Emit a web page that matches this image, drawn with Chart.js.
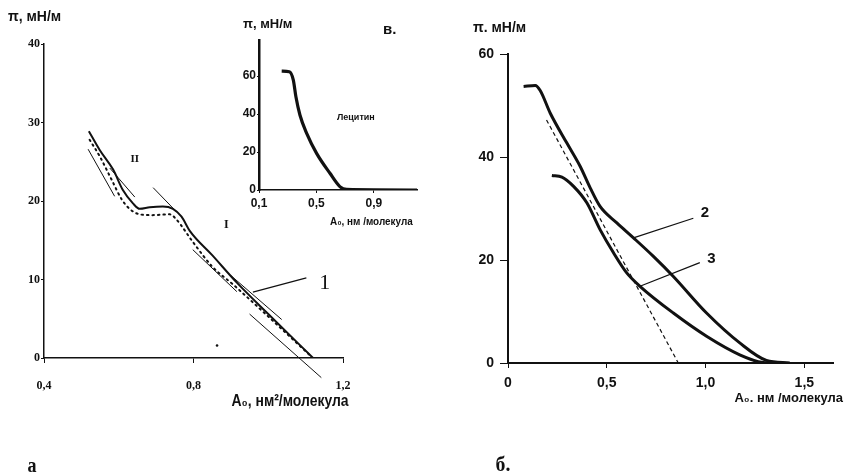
<!DOCTYPE html>
<html>
<head>
<meta charset="utf-8">
<script src="https://cdn.jsdelivr.net/npm/chart.js@4.4.0/dist/chart.umd.min.js"></script>
<style>
  html, body { margin: 0; padding: 0; background: #fff; }
  body { width: 845px; height: 476px; position: relative; overflow: hidden; }
  canvas { position: absolute; }
  #cA { left: 0; top: 0; width: 440px; height: 476px; }
  #cB { left: 220px; top: 0; width: 210px; height: 235px; }
  #cC { left: 440px; top: 0; width: 405px; height: 476px; }
</style>
</head>
<body>
<canvas id="cA" width="440" height="476"></canvas>
<canvas id="cB" width="210" height="235"></canvas>
<canvas id="cC" width="405" height="476"></canvas>
<script>
// ---- panel "а": isotherms with tangent lines
const aMainX = [0.52, 0.549, 0.585, 0.611, 0.638, 0.656, 0.683, 0.718, 0.745, 0.768, 0.79, 0.85, 0.916, 1.0, 1.12];
const aMainY = [28.9, 26.5, 24.0, 21.4, 19.7, 19.0, 19.2, 19.3, 19.0, 18.0, 16.2, 13.1, 9.6, 5.6, 0];
const aDotX = [0.522, 0.549, 0.58, 0.608, 0.629, 0.656, 0.69, 0.737, 0.755, 0.798, 0.851, 0.905, 0.995, 1.115];
const aDotY = [27.8, 25.7, 22.8, 20.2, 19.0, 18.3, 18.2, 18.3, 17.6, 14.8, 11.6, 9.4, 5.5, 0.2];
const aTangents = [
  { x: [0.518, 0.589], y: [26.6, 20.6] },
  { x: [0.576, 0.643], y: [24.2, 20.5] },
  { x: [0.692, 0.755], y: [21.7, 18.6] },
  { x: [0.798, 0.916], y: [13.8, 8.45] },
  { x: [0.9, 1.036], y: [10.5, 4.9] },
  { x: [0.95, 1.142], y: [5.6, -2.5] }
];
const aLeaderX = [0.959, 1.102];
const aLeaderY = [8.4, 10.2];
const aSpeckX = [0.863];
const aSpeckY = [1.6];
const aTicksX = [0.4, 0.8, 1.2];
const aTickLabelsX = ['0,4', '0,8', '1,2'];
const aTicksY = [0, 10, 20, 30, 40];
const aTickLabelsY = ['0', '10', '20', '30', '40'];

// ---- inset "в.": lecithin
const vX = [0.258, 0.311, 0.339, 0.357, 0.385, 0.432, 0.501, 0.594, 0.663, 0.71, 1.2];
const vY = [62.6, 62.3, 57.9, 49.1, 39.5, 29.8, 19.3, 8.8, 1.8, 0.3, 0];
const vTicksX = [0.1, 0.5, 0.9];
const vTickLabelsX = ['0,1', '0,5', '0,9'];
const vTicksY = [0, 20, 40, 60];
const vTickLabelsY = ['0', '20', '40', '60'];

// ---- panel "б": curves 2 and 3
const b2X = [0.079, 0.138, 0.163, 0.214, 0.298, 0.365, 0.416, 0.466, 0.551, 0.635, 0.736, 0.837, 1.005, 1.173, 1.308, 1.426];
const b2Y = [53.7, 53.9, 52.9, 48.5, 42.7, 38.2, 34.0, 30.4, 27.2, 24.3, 20.7, 16.8, 9.7, 3.9, 0.5, 0];
const b3X = [0.222, 0.273, 0.332, 0.399, 0.466, 0.534, 0.601, 0.668, 0.837, 1.005, 1.173, 1.291, 1.342];
const b3Y = [36.4, 36.1, 34.3, 31.1, 25.9, 21.4, 17.5, 14.9, 9.7, 5.2, 1.6, 0.1, 0];
const bDashX = [0.195, 0.862];
const bDashY = [47.2, 0];
const bLeader2X = [0.635, 0.938];
const bLeader2Y = [24.3, 28.1];
const bLeader3X = [0.668, 0.971];
const bLeader3Y = [14.9, 19.5];
const bTicksX = [0, 0.5, 1.0, 1.5];
const bTickLabelsX = ['0', '0,5', '1,0', '1,5'];
const bTicksY = [0, 20, 40, 60];
const bTickLabelsY = ['0', '20', '40', '60'];

const INK = '#111';
const SANS = '"Liberation Sans", Arial, sans-serif';
const SERIF = '"Liberation Serif", serif';
const pts = (xs, ys) => xs.map((x, i) => ({ x: x, y: ys[i] }));

// draws free text; items with data:true are placed through the scales
const textPlugin = {
  id: 'texts',
  afterDraw(chart, args, opts) {
    const ctx = chart.ctx;
    (opts.items || []).forEach(it => {
      let x = it.x, y = it.y;
      if (it.data) {
        x = chart.scales.x.getPixelForValue(it.x);
        y = chart.scales.y.getPixelForValue(it.y);
      }
      ctx.save();
      ctx.font = it.font;
      ctx.fillStyle = INK;
      ctx.textAlign = it.align || 'left';
      ctx.textBaseline = 'middle';
      ctx.translate(x, y);
      ctx.scale(it.sx || 1, 1);
      ctx.fillText(it.text, 0, 0);
      ctx.restore();
    });
  }
};

function line(xs, ys, width, extra) {
  return Object.assign({
    data: pts(xs, ys),
    showLine: true,
    borderColor: INK,
    borderWidth: width,
    pointRadius: 0,
    fill: false,
    tension: 0
  }, extra || {});
}

function curve(xs, ys, width, extra) {
  return line(xs, ys, width, Object.assign({ cubicInterpolationMode: 'monotone' }, extra || {}));
}

function axis(min, max, ticks, labels, o) {
  return {
    type: 'linear',
    min: min,
    max: max,
    afterBuildTicks: s => { s.ticks = ticks.map(v => ({ value: v })); },
    afterFit: s => { if (o.w !== undefined) s.width = o.w; if (o.h !== undefined) s.height = o.h; },
    ticks: {
      callback: (v, i) => labels[i],
      font: o.font,
      color: INK,
      padding: o.pad,
      maxRotation: 0,
      autoSkip: false
    },
    grid: { display: true, drawOnChartArea: false, drawTicks: true, tickLength: o.tick, color: INK, lineWidth: 1 },
    border: { display: true, color: INK, width: o.bw }
  };
}

function baseOptions(pad, scales, items) {
  return {
    responsive: false,
    animation: false,
    events: [],
    layout: { padding: pad },
    plugins: { legend: { display: false }, tooltip: { enabled: false }, texts: { items: items } },
    scales: scales
  };
}

const serifTick = { family: SERIF, weight: 'bold', size: 12 };
const sansTick = { family: SANS, weight: 'bold', size: 14 };
const sansSmall = { family: SANS, weight: 'bold', size: 12 };

// panel а
new Chart(document.getElementById('cA'), {
  type: 'scatter',
  data: {
    datasets: [
      curve(aMainX, aMainY, 2),
      curve(aDotX, aDotY, 2, { borderDash: [1.5, 4], borderCapStyle: 'round' }),
      ...aTangents.map(t => line(t.x, t.y, 1, { clip: false })),
      line(aLeaderX, aLeaderY, 1.2),
      { data: pts(aSpeckX, aSpeckY), pointRadius: 1.3, backgroundColor: INK, borderWidth: 0 }
    ]
  },
  options: baseOptions({ left: 4, right: 97, top: 44, bottom: 78 }, {
    x: axis(0.4, 1.2, aTicksX, aTickLabelsX, { h: 40, font: serifTick, pad: 16, tick: 5, bw: 1.5 }),
    y: axis(0, 40, aTicksY, aTickLabelsY, { w: 40, font: serifTick, pad: 1, tick: 3, bw: 1.5 })
  }, [
    { text: 'π, мН/м', x: 8, y: 17, font: 'bold 14px ' + SANS },
    { text: 'A₀, нм²/молекула', x: 290, y: 401, align: 'center', sx: 0.82, font: 'bold 17px ' + SANS },
    { text: 'а', x: 32, y: 467, align: 'center', sx: 0.9, font: 'bold 20px ' + SERIF },
    { text: 'II', x: 0.643, y: 25.3, data: true, align: 'center', font: 'bold 11px ' + SERIF },
    { text: 'I', x: 0.888, y: 17.0, data: true, align: 'center', font: 'bold 12px ' + SERIF },
    { text: '1', x: 1.151, y: 9.55, data: true, align: 'center', font: '22px ' + SERIF }
  ]),
  plugins: [textPlugin]
});

// inset в.
new Chart(document.getElementById('cB'), {
  type: 'scatter',
  data: { datasets: [curve(vX, vY, 3.2)] },
  options: baseOptions({ left: 9, right: 13, top: 40, bottom: 25 }, {
    x: axis(0.1, 1.2, vTicksX, vTickLabelsX, { h: 20, font: sansSmall, pad: 3, tick: 3, bw: 1.5 }),
    y: axis(0, 79, vTicksY, vTickLabelsY, { w: 30, font: sansSmall, pad: 1, tick: 2, bw: 2.5 })
  }, [
    { text: 'π, мН/м', x: 23, y: 24, font: 'bold 13px ' + SANS },
    { text: 'в.', x: 163, y: 30, font: 'bold 15px ' + SANS },
    { text: 'Лецитин', x: 0.643, y: 38.4, data: true, font: 'bold 9px ' + SANS },
    { text: 'A₀, нм /молекула', x: 110, y: 222, sx: 0.9, font: 'bold 11px ' + SANS }
  ]),
  plugins: [textPlugin]
});

// panel б
new Chart(document.getElementById('cC'), {
  type: 'scatter',
  data: {
    datasets: [
      curve(b2X, b2Y, 3),
      curve(b3X, b3Y, 3),
      line(bDashX, bDashY, 1.2, { borderDash: [4, 3] }),
      line(bLeader2X, bLeader2Y, 1.2),
      line(bLeader3X, bLeader3Y, 1.2)
    ]
  },
  options: baseOptions({ left: 28, right: 12, top: 54, bottom: 83 }, {
    x: axis(0, 1.645, bTicksX, bTickLabelsX, { h: 30, font: sansTick, pad: 7, tick: 5, bw: 2 }),
    y: axis(0, 60, bTicksY, bTickLabelsY, { w: 40, font: sansTick, pad: 6, tick: 8, bw: 2 })
  }, [
    { text: 'π. мН/м', x: 33, y: 28, font: 'bold 14px ' + SANS },
    { text: 'A₀. нм /молекула', x: 403, y: 398, align: 'right', font: 'bold 13px ' + SANS },
    { text: 'б.', x: 63, y: 465, align: 'center', sx: 0.9, font: 'bold 22px ' + SERIF },
    { text: '2', x: 0.997, y: 29.1, data: true, align: 'center', font: 'bold 15px ' + SANS },
    { text: '3', x: 1.03, y: 20.2, data: true, align: 'center', font: 'bold 15px ' + SANS }
  ]),
  plugins: [textPlugin]
});
</script>
</body>
</html>
